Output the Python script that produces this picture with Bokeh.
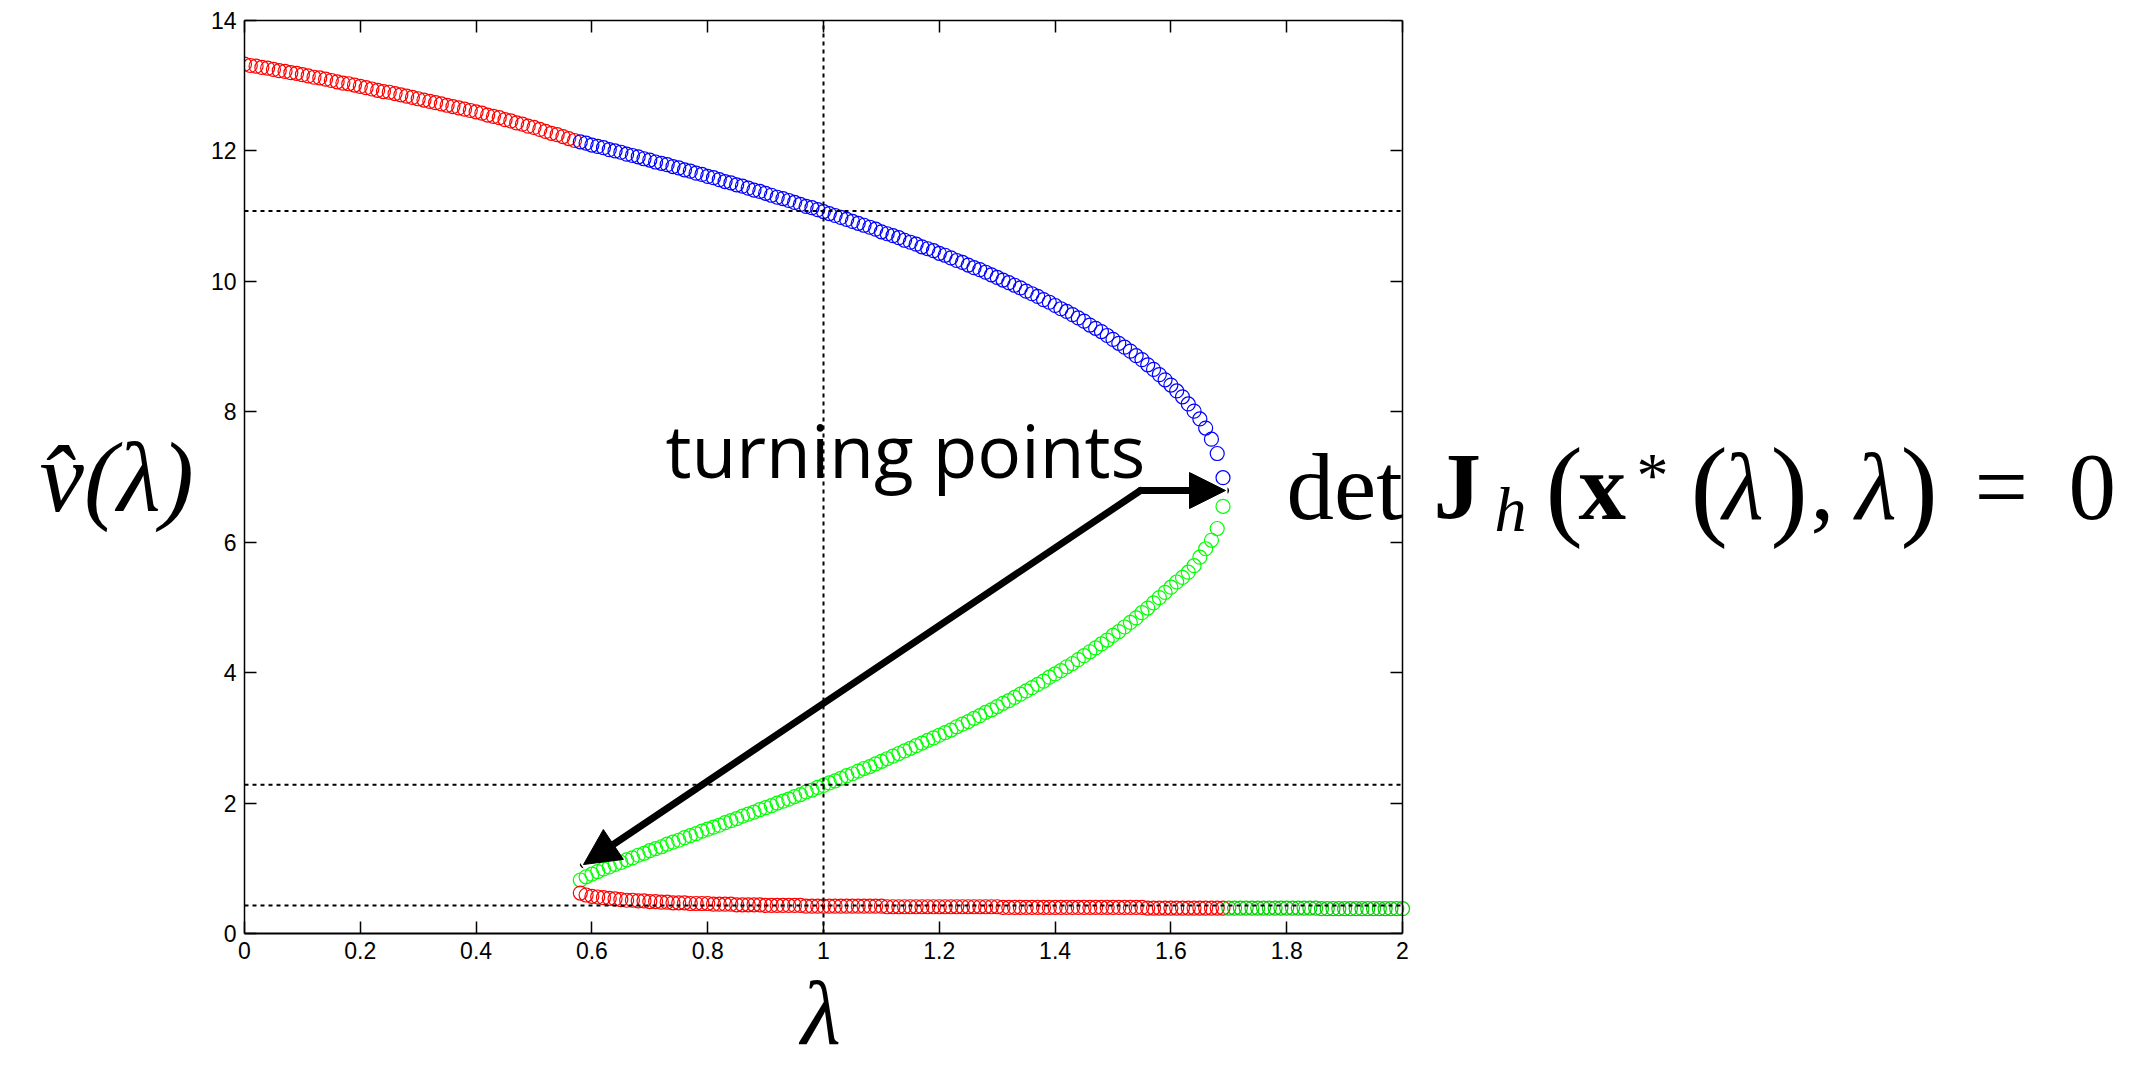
import numpy as np
from bokeh.plotting import figure
from bokeh.models import (Range1d, LinearAxis, FixedTicker, CustomJSTickFormatter,
                          Label, Arrow, NormalHead)
from bokeh.embed import file_html
from bokeh.resources import INLINE

# ---------------- data ----------------
LAM_STEP = 0.01

upper_red_start = 0.00
upper_red_v = [13.33, 13.31, 13.30, 13.28, 13.27, 13.25, 13.23, 13.22, 13.20, 13.19,
               13.17, 13.15, 13.13, 13.12, 13.10, 13.08, 13.06, 13.04, 13.03, 13.01,
               12.99, 12.97, 12.95, 12.93, 12.91, 12.90, 12.88, 12.86, 12.84, 12.82,
               12.80, 12.78, 12.76, 12.74, 12.72, 12.70, 12.68, 12.66, 12.64, 12.62,
               12.60, 12.58, 12.55, 12.53, 12.51, 12.48, 12.46, 12.43, 12.41, 12.38,
               12.36, 12.33, 12.30, 12.27, 12.25, 12.22, 12.19, 12.16]

upper_blue_start = 0.58
upper_blue_v = [12.14, 12.12, 12.09, 12.07, 12.05, 12.02, 12.00, 11.98, 11.95, 11.93, 11.91, 11.88,
                11.86, 11.83, 11.81, 11.79, 11.76, 11.74, 11.71, 11.69, 11.66, 11.64,
                11.61, 11.59, 11.56, 11.53, 11.51, 11.48, 11.46, 11.43, 11.40, 11.38,
                11.35, 11.32, 11.29, 11.27, 11.24, 11.21, 11.18, 11.15, 11.13, 11.10,
                11.07, 11.04, 11.01, 10.98, 10.95, 10.92, 10.89, 10.86, 10.83, 10.80,
                10.76, 10.73, 10.70, 10.67, 10.63, 10.60, 10.57, 10.53, 10.50, 10.47,
                10.43, 10.40, 10.36, 10.32, 10.29, 10.25, 10.21, 10.18, 10.14, 10.10,
                10.06, 10.02, 9.98, 9.94, 9.90, 9.85, 9.81, 9.77, 9.72, 9.68,
                9.63, 9.58, 9.54, 9.49, 9.44, 9.39, 9.33, 9.28, 9.23, 9.17,
                9.11, 9.05, 8.99, 8.93, 8.86, 8.80, 8.72, 8.65, 8.57, 8.49,
                8.41, 8.32, 8.23, 8.12, 8.01, 7.89, 7.75, 7.58, 7.36, 6.99]

middle_green_start = 0.58
middle_green_v = [0.82, 0.87, 0.91, 0.95, 0.99, 1.02, 1.06, 1.09, 1.13, 1.16, 1.20, 1.23,
                  1.27, 1.30, 1.33, 1.37, 1.40, 1.43, 1.47, 1.50, 1.53, 1.57,
                  1.60, 1.63, 1.66, 1.70, 1.73, 1.76, 1.80, 1.83, 1.86, 1.90,
                  1.93, 1.96, 2.00, 2.03, 2.06, 2.10, 2.13, 2.17, 2.20, 2.24,
                  2.27, 2.31, 2.34, 2.38, 2.42, 2.45, 2.49, 2.53, 2.56, 2.60,
                  2.64, 2.68, 2.72, 2.76, 2.80, 2.84, 2.88, 2.92, 2.96, 3.00,
                  3.04, 3.08, 3.12, 3.17, 3.21, 3.25, 3.30, 3.34, 3.39, 3.43,
                  3.48, 3.53, 3.57, 3.62, 3.67, 3.72, 3.77, 3.82, 3.87, 3.93,
                  3.98, 4.03, 4.09, 4.14, 4.20, 4.26, 4.32, 4.38, 4.44, 4.50,
                  4.57, 4.63, 4.70, 4.77, 4.84, 4.92, 4.99, 5.07, 5.15, 5.23,
                  5.31, 5.39, 5.46, 5.54, 5.64, 5.77, 5.90, 6.03, 6.21, 6.55]

lower_red_start = 0.58
lower_red_v = [0.62, 0.59, 0.57, 0.56, 0.55, 0.54, 0.53, 0.52, 0.51, 0.51, 0.50, 0.50,
               0.49, 0.49, 0.48, 0.48, 0.47, 0.47, 0.47, 0.46, 0.46, 0.46,
               0.46, 0.45, 0.45, 0.45, 0.45, 0.44, 0.44, 0.44, 0.44, 0.44,
               0.43, 0.43, 0.43, 0.43, 0.43, 0.43, 0.43, 0.42, 0.42, 0.42,
               0.42, 0.42, 0.42, 0.42, 0.42, 0.42, 0.42, 0.42, 0.42, 0.42,
               0.42, 0.41, 0.41, 0.41, 0.41, 0.41, 0.41, 0.41, 0.41, 0.41,
               0.41, 0.41, 0.41, 0.41, 0.41, 0.41, 0.41, 0.41, 0.41, 0.41,
               0.41, 0.40, 0.40, 0.40, 0.40, 0.40, 0.40, 0.40, 0.40, 0.40,
               0.40, 0.40, 0.40, 0.40, 0.40, 0.40, 0.40, 0.40, 0.40, 0.40,
               0.40, 0.40, 0.40, 0.40, 0.40, 0.40, 0.39, 0.39, 0.39, 0.39,
               0.39, 0.39, 0.39, 0.39, 0.39, 0.39, 0.39, 0.39, 0.39, 0.39]

lower_green_start = 1.70
lower_green_v = [0.39, 0.39, 0.39, 0.39, 0.39, 0.39, 0.39, 0.39, 0.39, 0.39,
                 0.39, 0.39, 0.39, 0.39, 0.39, 0.39, 0.38, 0.38, 0.38, 0.38,
                 0.38, 0.38, 0.38, 0.38, 0.38, 0.38, 0.38, 0.38, 0.38, 0.38, 0.38]

vline_lambda = [1.0]
hline_values = [11.08, 2.28, 0.43]

x_tick_values = [0, 0.2, 0.4, 0.6, 0.8, 1, 1.2, 1.4, 1.6, 1.8, 2]
x_tick_labels = ["0", "0.2", "0.4", "0.6", "0.8", "1", "1.2", "1.4", "1.6", "1.8", "2"]
y_tick_values = [0, 2, 4, 6, 8, 10, 12, 14]
y_tick_labels = ["0", "2", "4", "6", "8", "10", "12", "14"]

# ---------------- geometry (page pixels) ----------------
PW, PH = 2141, 1070
AX_L, AX_T, AX_B = 244, 20, 933          # box left / top / bottom
PX_PER_LAM = 579.0
RIGHT_PAD = 8
X_END = (PW - RIGHT_PAD - AX_L) / PX_PER_LAM
Y0, Y1 = y_tick_values[0], y_tick_values[-1]
PX_PER_V = (AX_B - AX_T) / (Y1 - Y0)


def X(px):
    return (px - AX_L) / PX_PER_LAM


def Y(py):
    return Y0 + (AX_B - py) / PX_PER_V


def lam_grid(start, n):
    return np.round(start + LAM_STEP * np.arange(n), 2)


p = figure(width=PW, height=PH, x_range=Range1d(0, X_END), y_range=Range1d(Y0, Y1),
           output_backend="svg", toolbar_location=None,
           min_border_left=AX_L, min_border_right=RIGHT_PAD,
           min_border_top=AX_T, min_border_bottom=PH - AX_B)
p.xgrid.visible = False
p.ygrid.visible = False
p.outline_line_color = None
p.background_fill_color = "white"
p.border_fill_color = "white"

XB = (x_tick_values[0], x_tick_values[-1])
YB = (Y0, Y1)

p.add_layout(LinearAxis(ticker=FixedTicker(ticks=x_tick_values), bounds=XB,
                        formatter=CustomJSTickFormatter(code="return ''"),
                        major_label_text_font_size="0px", major_label_standoff=0), "above")
p.add_layout(LinearAxis(ticker=FixedTicker(ticks=y_tick_values), bounds=YB,
                        fixed_location=x_tick_values[-1],
                        formatter=CustomJSTickFormatter(code="return ''"),
                        major_label_text_font_size="0px", major_label_standoff=0), "right")

xb = p.below[0]
yl = p.left[0]
xb.ticker = FixedTicker(ticks=x_tick_values)
xb.bounds = XB
yl.ticker = FixedTicker(ticks=y_tick_values)
yl.bounds = YB
xb.major_label_overrides = {v: l for v, l in zip(x_tick_values, x_tick_labels)}
yl.major_label_overrides = {v: l for v, l in zip(y_tick_values, y_tick_labels)}

for ax in list(p.xaxis) + list(p.yaxis):
    ax.major_tick_in = 12
    ax.major_tick_out = 0
    ax.minor_tick_in = 0
    ax.minor_tick_out = 0
    ax.axis_line_width = 1.5
    ax.axis_line_color = "black"
    ax.major_tick_line_width = 1.5
    ax.major_tick_line_color = "black"
xb.axis_line_width = 2

for ax in (xb, yl):
    ax.major_label_text_font = "Liberation Sans"
    ax.major_label_text_font_size = "23px"
    ax.major_label_text_color = "black"
xb.major_label_standoff = 8
yl.major_label_standoff = 8

# x axis label λ: the label is centred on the whole frame, which reaches far to the
# right of the box, so em-spaces after λ move the glyph back under λ = 1
LAM_FONT = 92
frame_centre_px = (AX_L + PW - RIGHT_PAD) / 2
lam_px = AX_L + PX_PER_LAM * vline_lambda[0]
n_em = int(round(2 * (frame_centre_px - lam_px) / LAM_FONT))
xb.axis_label = "λ" + "\u2003" * n_em
xb.axis_label_text_font = "Liberation Serif"
xb.axis_label_text_font_style = "italic"
xb.axis_label_text_font_size = f"{LAM_FONT}px"
xb.axis_label_text_color = "black"
xb.axis_label_standoff = 0

# y axis label  v̂(λ), horizontal
yl.axis_label = "v\u0302(λ)"
yl.axis_label_orientation = "horizontal"
yl.axis_label_text_font = "Liberation Serif"
yl.axis_label_text_font_style = "italic"
yl.axis_label_text_font_size = "100px"
yl.axis_label_text_color = "black"
yl.axis_label_standoff = 14

# ---------------- markers ----------------
MS = 14
series = [
    (upper_red_start, upper_red_v, "#ff0000"),
    (upper_blue_start, upper_blue_v, "#0000ff"),
    (middle_green_start, middle_green_v, "#00ff00"),
    (lower_red_start, lower_red_v, "#ff0000"),
    (lower_green_start, lower_green_v, "#00d000"),
]
for start, vals, col in series:
    p.scatter(lam_grid(start, len(vals)), vals, marker="circle", size=MS,
              fill_color=None, line_color=col, line_width=1.2)

# ---------------- reference lines ----------------
p.segment(x0=vline_lambda, x1=vline_lambda, y0=[Y0] * len(vline_lambda), y1=[Y1] * len(vline_lambda),
          line_color="black", line_width=2, line_dash="4 4")
p.segment(x0=[XB[0]] * len(hline_values), x1=[XB[1]] * len(hline_values), y0=hline_values, y1=hline_values,
          line_color="black", line_width=2, line_dash="4 4")

# ---------------- arrows ----------------
corner = (X(1140), Y(490))
tips = [(X(583), Y(864)), (X(1225), Y(490))]
for tx, ty in tips:
    p.add_layout(Arrow(end=NormalHead(size=36, fill_color="black", line_color="black", line_width=1),
                       x_start=corner[0], y_start=corner[1], x_end=tx, y_end=ty,
                       line_color="black", line_width=7, line_cap="round"))

# ---------------- texts ----------------
SERIF = "Liberation Serif"
# bokeh puts the "alphabetic" anchor about mid-height here; correct by a font factor
K = {"Liberation Serif": 0.3375, "Open Sans": 0.41}


def add_text(txt, left_px, base_px, font, size, style="normal", align="left"):
    p.add_layout(Label(x=X(left_px), y=Y(base_px - K[font] * size), text=txt, text_font=font,
                       text_font_size=f"{size}px", text_font_style=style,
                       text_align=align, text_baseline="alphabetic", text_color="black"))


add_text("turning points", 665, 479, "Open Sans", 73)

eq = [("det", 1286, 519, 95, "normal"),
      ("J", 1433, 519, 95, "bold"),
      ("h", 1494, 531, 64, "italic"),
      ("(", 1545, 524, 112, "normal"),
      ("x", 1578, 519, 95, "bold"),
      ("*", 1636, 497, 64, "normal"),
      ("(", 1690, 524, 112, "normal"),
      ("λ", 1722, 519, 95, "italic"),
      (")", 1770, 524, 112, "normal"),
      (",", 1810, 519, 95, "normal"),
      ("λ", 1855, 519, 95, "italic"),
      (")", 1900, 524, 112, "normal"),
      ("=", 1974, 519, 95, "normal"),
      ("0", 2068, 519, 95, "normal")]
for t, lx, by, sz, st in eq:
    add_text(t, lx, by, SERIF, sz, st)

open("out.html", "w").write(file_html(p, INLINE))
